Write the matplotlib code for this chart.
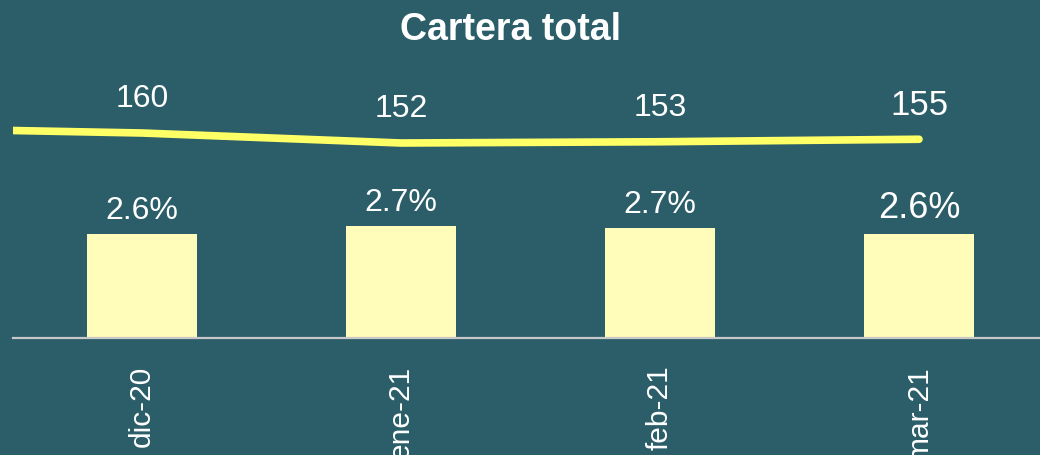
import matplotlib.pyplot as plt

plt.rcParams['font.family'] = ['Liberation Sans', 'DejaVu Sans']

# data
categories = ['dic-20', 'ene-21', 'feb-21', 'mar-21']
ratio_vals = [2.60, 2.70, 2.68, 2.60]          # bars, %
ratio_labels = ['2.6%', '2.7%', '2.7%', '2.6%']
total_vals = [160, 152, 153, 155]              # line
total_lead = 162                               # line starts from the left edge

bg = '#2B5E69'
bar_color = '#FFFDB9'
line_color = '#FFFF66'

fig = plt.figure(figsize=(10.4, 4.56), dpi=100, facecolor=bg)
ax = fig.add_axes([12.5 / 1040, (456 - 339) / 456, 1036 / 1040, 278 / 456])
ax.set_facecolor(bg)

x = list(range(len(categories)))

# bars
ax.bar(x, ratio_vals, width=0.425, color=bar_color, zorder=2)
ax.set_ylim(1.3, 1.3 + 278 / 80)
ax.set_xlim(-0.5, 3.5)
for i, v in enumerate(ratio_vals):
    fs = 26 if i == 3 else 23
    ax.annotate(ratio_labels[i], (i, v), xytext=(0, 17 if i < 3 else 19),
                textcoords='offset points', ha='center', va='center',
                color='white', fontsize=fs)

for s in ['top', 'right', 'left']:
    ax.spines[s].set_visible(False)
ax.spines['bottom'].set_color('#C8C8C8')
ax.spines['bottom'].set_linewidth(1.6)
ax.set_yticks([])
ax.set_xticks(x)
ax.set_xticklabels(categories, rotation=90, color='white', fontsize=21.5)
ax.tick_params(axis='x', length=0, pad=19)

# line on its own scale
ax2 = ax.twinx()
ax2.set_ylim(-4, -4 + 278 / 1.25)
ax2.set_xlim(-0.5, 3.5)
ax2.plot([-0.5] + x, [total_lead] + total_vals, color=line_color, lw=5.5,
         solid_capstyle='round', solid_joinstyle='round')
for i, v in enumerate(total_vals):
    fs = 25 if i == 3 else 23
    ax2.annotate(str(v), (i, v), xytext=(0, 25), textcoords='offset points',
                 ha='center', va='center', color='white', fontsize=fs)
ax2.set_yticks([])
for s in ax2.spines.values():
    s.set_visible(False)

fig.text(510 / 1040, 1 - 30 / 456, 'Cartera total', ha='center', va='center',
         color='white', fontsize=27, fontweight='bold')

fig.savefig('out.png', dpi=100, facecolor=bg)
